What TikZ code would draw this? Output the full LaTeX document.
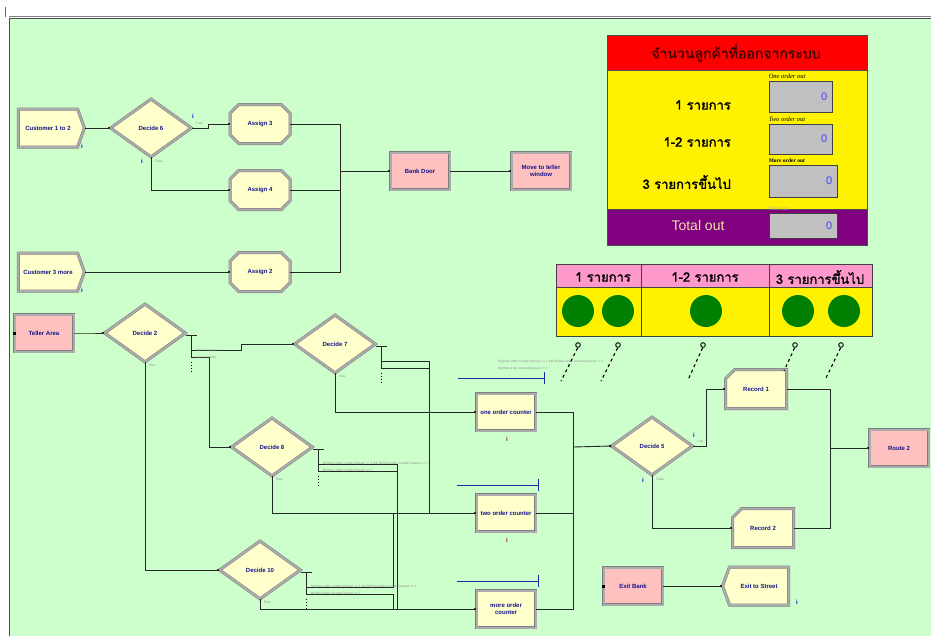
\documentclass[tikz,border=0pt]{standalone}
\usepackage{fontspec}
\setmainfont{Liberation Serif}
\setsansfont{Liberation Sans}
\newfontfamily\thaifont[Script=Thai, AutoFakeBold=1.5]{Loma}
\usetikzlibrary{positioning,calc,arrows.meta,shapes.geometric,shapes.misc,shapes.symbols}

\definecolor{bggreen}{RGB}{204,255,204}
\definecolor{modyellow}{RGB}{255,255,204}
\definecolor{modpink}{RGB}{255,192,192}
\definecolor{modblue}{RGB}{20,20,140}
\definecolor{modedge}{RGB}{125,125,125}
\definecolor{modband}{RGB}{172,172,172}
\definecolor{hdrred}{RGB}{255,0,0}
\definecolor{hdrtext}{RGB}{70,0,0}
\definecolor{panelpurple}{RGB}{128,0,128}
\definecolor{paneltext}{RGB}{240,225,170}
\definecolor{valgray}{RGB}{192,192,192}
\definecolor{tabpink}{RGB}{255,153,204}
\definecolor{lampgreen}{RGB}{0,128,0}
\definecolor{queueblue}{RGB}{30,40,160}
\definecolor{infored}{RGB}{160,20,20}

\tikzset{
  mod/.style={draw=modedge, double=modband, double distance=2pt, line width=0.5pt,
    fill=modyellow, text=modblue, align=center, inner sep=1pt,
    font=\sffamily\bfseries\fontsize{6}{7.2}\selectfont},
  assign/.style={mod, chamfered rectangle, chamfered rectangle xsep=5pt, chamfered rectangle ysep=5pt,
    minimum width=60pt, minimum height=39pt},
  proc/.style={mod, rectangle, minimum width=59pt, minimum height=37pt},
  station/.style={mod, rectangle, fill=modpink, minimum width=59pt, minimum height=37pt},
  decide/.style={mod, diamond, minimum width=81pt, minimum height=58pt},
  create/.style={mod, signal, signal to=east, signal pointer angle=140, minimum width=66pt, minimum height=38pt},
  dispose/.style={mod, signal, signal to=west, signal pointer angle=140, minimum width=66pt, minimum height=38pt},
  record/.style={mod, chamfered rectangle, chamfered rectangle corners=north west,
    chamfered rectangle xsep=6pt, chamfered rectangle ysep=6pt, minimum width=61pt, minimum height=39pt},
  flowseg/.style={draw=black!85, line width=0.9pt},
  flowin/.style={flowseg, -{Square[length=2.2pt,width=2.2pt]}},
  valbox/.style={draw=black!75, line width=0.9pt, fill=valgray, inner sep=0pt},
  valnum/.style={text=blue!75, font=\sffamily\fontsize{11}{12}\selectfont, anchor=east, inner sep=0pt},
  vallab/.style={font=\itshape\fontsize{6.5}{7}\selectfont, anchor=south west, inner sep=0pt},
  thairow/.style={font=\thaifont\bfseries\fontsize{13}{15}\selectfont, inner sep=0pt},
  tinytext/.style={font=\sffamily\fontsize{3.2}{3.6}\selectfont, text=black!45, anchor=west, inner sep=0pt},
  infoi/.style={font=\sffamily\bfseries\fontsize{6}{6}\selectfont, text=blue!80!black, inner sep=0pt},
  queue/.style={draw=queueblue, line width=1pt},
}

\begin{document}
\begin{tikzpicture}[x=1pt, y=-1pt]
\useasboundingbox (0,0) rectangle (931,635);
\fill[white] (0,0) rectangle (931,635);
\draw[black!60, line width=0.6pt] (5,7) -- (5,17);
\draw[black!50, line width=0.8pt] (9,16.5) -- (931,16.5);
\filldraw[fill=bggreen, draw=black!70, line width=0.8pt] (9,18) rectangle (933,637);

% modules
\node[create] (cust12) at (48,128) {Customer 1 to 2};
\node[decide] (d6) at (151,128) {Decide 6};
\node[assign] (a3) at (260,124) {Assign 3};
\node[assign] (a4) at (260,190) {Assign 4};
\node[create] (cust3) at (48,272) {Customer 3 more};
\node[assign] (a2) at (260,272) {Assign 2};
\node[station] (bank) at (420,171) {Bank Door};
\node[station] (move) at (541,171) {Move to teller\\window};

\node[station] (teller) at (44,333) {Teller Area};
\node[decide] (d2) at (145,333) {Decide 2};
\node[decide] (d7) at (335,344) {Decide 7};
\node[decide] (d8) at (272,447) {Decide 8};
\node[decide] (d10) at (260,570) {Decide 10};

\node[proc] (c1) at (506,412) {one order counter};
\node[proc] (c2) at (506,513) {two order counter};
\node[proc] (c3) at (506,609) {more order\\counter};

\node[decide] (d5) at (652,446) {Decide 5};
\node[record] (r1) at (756,389) {Record 1};
\node[record] (r2) at (763,528) {Record 2};
\node[station] (route) at (899,448) {Route 2};
\node[station] (exitbank) at (633,586) {Exit Bank};
\node[dispose] (street) at (759,586) {Exit to Street};

\coordinate (j1) at (340,171);
\coordinate (j2) at (573,447);
\coordinate (j3) at (830,448);
\coordinate (j7) at (429,513);
\coordinate (j8) at (397,609);
\coordinate (j10a) at (393,513);
\coordinate (j10b) at (393,609);

% upper flow
\draw[flowin] (cust12.east) -- (d6.west);
\draw[flowin] (d6.east) -- ++(17,0) |- (a3.west);
\draw[flowin] (d6.south) |- (a4.west);
\draw[flowin] (cust3.east) -- (a2.west);
\draw[flowseg] (a3.east) -| (j1);
\draw[flowseg] (a4.east) -| (j1);
\draw[flowseg] (a2.east) -| (j1);
\draw[flowin] (j1) -- (bank.west);
\draw[flowin] (bank.east) -- (move.west);

% n-way decide exits
\foreach \d in {d2,d7,d8,d10} {
  \draw[flowseg] ($(\d.east)+(0,2.5)$) -- ++(11,0);
  \draw[flowseg] ($(\d.east)+(6,2.5)$) -- ++(0,22);
  \draw[dotted, line width=0.9pt] ($(\d.east)+(6,29)$) -- ++(0,10);
  \coordinate (\d o1) at ($(\d.east)+(6,17)$);
  \coordinate (\d o2) at ($(\d.east)+(6,24)$);
}

\fill[black] (teller.west) ++(-1.5,-1.5) rectangle ++(3,3);
\fill[black] (exitbank.west) ++(-1.5,-1.5) rectangle ++(3,3);
\draw[flowin] (teller.east) -- ++(14,0) |- (d2.west);
\draw[flowin] (d2o1) -- ++(50,0) |- (d7.west);
\draw[flowin] (d2o2) -- ++(18,0) |- (d8.west);
\draw[flowin] (d2.south) |- (d10.west);
\draw[flowseg] (d7o1) -| (j7);
\draw[flowseg] (d7o2) -| (j7);
\draw[flowin] (d7.south) |- (c1.west);
\draw[flowseg] (d8o1) -| (j8);
\draw[flowseg] (d8o2) -| (j8);
\draw[flowin] (d8.south) |- (c2.west);
\draw[flowseg] (d10o1) -| (j10a);
\draw[flowseg] (d10o2) -| (j10b);
\draw[flowin] (d10.south) |- (c3.west);

% counters to records
\draw[flowseg] (c1.east) -| (j2);
\draw[flowseg] (c2.east) -| (j2);
\draw[flowseg] (c3.east) -| (j2);
\draw[flowin] (j2) -- (d5.west);
\draw[flowin] (d5.east) -- ++(14,0) |- (r1.west);
\draw[flowin] (d5.south) |- (r2.west);
\draw[flowseg] (r1.east) -| (j3);
\draw[flowseg] (r2.east) -| (j3);
\draw[flowin] (j3) -- (route.west);
\draw[flowin] (exitbank.east) -- (street.west);

% queues
\draw[queue] (458,378) -- (544,378);
\draw[queue] (544,372) -- (544,384);
\draw[queue] (457,485) -- (538,485);
\draw[queue] (538,479) -- (538,491);
\draw[queue] (457,581) -- (538,581);
\draw[queue] (538,575) -- (538,587);

% small labels
\node[tinytext] (t6a) at ($(d6.east)+(4,-5)$) {True};
\node[tinytext] (t6b) at ($(d6.south)+(4,4)$) {False};
\node[tinytext] (t5a) at ($(d5.east)+(4,-5)$) {True};
\node[tinytext] (t5b) at ($(d5.south)+(4,4)$) {False};
\foreach \d in {d2,d7,d8,d10}
  \node[tinytext] at ($(\d.south)+(4,3)$) {Else};
\node[tinytext] (t2a) at ($(d2o1)+(4,0)$) {Item == 1 order};
\node[tinytext] (t2b) at ($(d2o2)+(4,0)$) {Item 1-2 order};
\node[tinytext] (t8a) at ($(d8o1)+(4,0)$) {NQ(one order counter.Queue) == 1 \&\& NQ(two order counter.Queue) == 1};
\node[tinytext] (t8b) at ($(d8o2)+(4,0)$) {NQ(one order counter.Queue) == 1};
\node[tinytext] (t10a) at ($(d10o1)+(4,0)$) {NQ(one order counter.Queue) == 1 \&\& NQ(two order counter.Queue) == 1};
\node[tinytext] (t10b) at ($(d10o2)+(4,0)$) {NQ(two order counter.Queue) == 1};
\node[tinytext] (tq1) at (498,362) {NQ(one order counter.Queue) == 1 \&\& NQ(two order counter.Queue) == 1};
\node[tinytext] (tq2) at (498,369) {NQ(two order counter.Queue) == 1};

\node[infoi] (i1) at (82,146) {i};
\node[infoi] (i2) at (82,290) {i};
\node[infoi] (i3) at (193,116) {i};
\node[infoi] (i4) at (142,161) {i};
\node[infoi] (i5) at (694,435) {i};
\node[infoi] (i6) at (643,480) {i};
\node[infoi] (i7) at (797,602) {i};
\node[infoi, text=infored] (i8) at (507,439) {i};
\node[infoi, text=infored] (i9) at (507,540) {i};

% counter panel
\filldraw[fill=hdrred, draw=black!70, line width=0.8pt] (607,35) rectangle (867,70);
\filldraw[fill=yellow, draw=black!70, line width=0.8pt] (607,70) rectangle (867,209);
\filldraw[fill=panelpurple, draw=black!70, line width=0.8pt] (607,209) rectangle (867,245);
\node[thairow, text=hdrtext, font=\thaifont\bfseries\fontsize{14}{16}\selectfont] (ttl) at (736,53) {จำนวนลูกค้าที่ออกจากระบบ};
\node[thairow, anchor=east] (row1) at (731,105) {1 รายการ};
\node[thairow, anchor=east] (row2) at (731,142) {1-2 รายการ};
\node[thairow, anchor=east] (row3) at (731,182) {3 รายการขึ้นไป};
\node[text=paneltext, font=\sffamily\fontsize{14}{16}\selectfont, inner sep=0pt] (tot) at (698,225) {Total out};

\node[valbox, minimum width=63pt, minimum height=31pt] (v1) at (800.5,96.5) {};
\node[valbox, minimum width=63pt, minimum height=30pt] (v2) at (800.5,139) {};
\node[valbox, minimum width=68pt, minimum height=32pt] (v3) at (803,181) {};
\node[valbox, minimum width=68pt, minimum height=25pt] (v4) at (803,225.5) {};
\foreach \v in {v1,v2,v3,v4}
  \node[valnum] at ($(\v.east)+(-5,0)$) {0};
\node[vallab] (l1) at ($(v1.north west)+(0,-1.5)$) {One order out};
\node[vallab] (l2) at ($(v2.north west)+(0,-1.5)$) {Two order out};
\node[vallab, font=\bfseries\fontsize{5.5}{6}\selectfont] (l3) at ($(v3.north west)+(0,-1.5)$) {More order out};
\node[vallab, text=black!35, font=\fontsize{5.5}{6}\selectfont] (l4) at ($(v4.north west)+(0,-1.5)$) {Total out};

% lamp panel
\filldraw[fill=tabpink, draw=black!75, line width=0.8pt] (556,264) rectangle (872,287);
\filldraw[fill=yellow, draw=black!75, line width=0.8pt] (556,287) rectangle (872,336);
\draw[black!75, line width=1pt] (641,264) -- (641,336);
\draw[black!75, line width=1pt] (769,264) -- (769,336);
\node[thairow] (h1) at (603,277) {1 รายการ};
\node[thairow] (h2) at (705,277) {1-2 รายการ};
\node[thairow] (h3) at (820,277) {3 รายการขึ้นไป};
\foreach \x in {578,618,706,798,844}
  \fill[lampgreen] (\x,311) circle (16pt);
\foreach \x/\ex/\ey in {578/561/381, 618/601/381, 703/688/380, 795/784/371, 841/826/378} {
  \draw[black, line width=0.9pt] (\x,345) circle (2.3pt);
  \draw[black, line width=1.1pt, dash pattern=on 3pt off 3pt] (\x-0.5,348) -- (\ex,\ey);
}
\end{tikzpicture}
\end{document}
